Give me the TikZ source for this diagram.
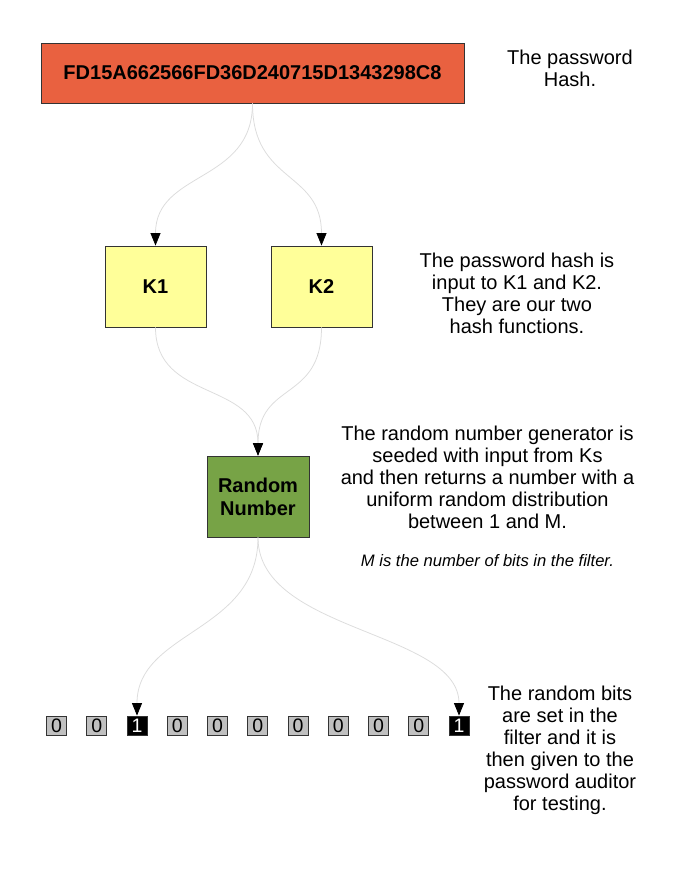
\documentclass[tikz,border=0pt]{standalone}
\usepackage{fontspec}
\setmainfont{Liberation Sans}
\usetikzlibrary{arrows.meta}
\definecolor{hashred}{HTML}{E96140}
\definecolor{kyellow}{HTML}{FFFF99}
\definecolor{rgreen}{HTML}{77A346}
\definecolor{bitgray}{HTML}{C0C0C0}
\definecolor{edgegray}{HTML}{333333}
\definecolor{conngray}{HTML}{DCDCDC}
\tikzset{
  box/.style={draw=edgegray, line width=0.9pt, inner sep=0pt, align=center,
    font=\bfseries\fontsize{20}{23}\selectfont},
  hashbox/.style={box, fill=hashred, minimum width=423pt, minimum height=60pt},
  kbox/.style={box, fill=kyellow, minimum width=101pt, minimum height=81pt},
  rbox/.style={box, fill=rgreen, minimum width=102pt, minimum height=81pt},
  bitzero/.style={draw=edgegray, line width=0.8pt, fill=bitgray, inner sep=0pt,
    minimum width=20pt, minimum height=19pt, font=\fontsize{19.5}{19}\selectfont},
  bitone/.style={bitzero, fill=black, text=white},
  note/.style={align=center, inner sep=0pt, font=\fontsize{20}{22}\selectfont},
  smallnote/.style={align=center, inner sep=0pt, font=\itshape\fontsize{16.6}{19}\selectfont},
  conn/.style={draw=conngray, line width=0.75pt, -{Triangle[black,width=10pt,length=12.5pt]}}
}
\begin{document}
\begin{tikzpicture}[x=1pt,y=-1pt]
\useasboundingbox[fill=white] (0,0) rectangle (674,870);

\node[hashbox] (hash) at (252.5,73) {FD15A662566FD36D240715D1343298C8};
\node[note] (t1) at (570,68.5) {The password\\Hash.};

\node[kbox] (k1) at (155.5,286.5) {K1};
\node[kbox] (k2) at (321.5,286.5) {K2};
\node[note] (t2) at (517,293) {The password hash is\\input to K1 and K2.\\They are our two\\hash functions.};

\node[rbox] (rn) at (258,496.5) {Random\\Number};
\node[note] (t3) at (487.5,477) {The random number generator is\\seeded with input from Ks\\and then returns a number with a\\uniform random distribution\\between 1 and M.};
\node[smallnote] (t4) at (487.5,561) {M is the number of bits in the filter.};

\foreach \i/\v/\s in {0/0/bitzero,1/0/bitzero,2/1/bitone,3/0/bitzero,4/0/bitzero,5/0/bitzero,6/0/bitzero,7/0/bitzero,8/0/bitzero,9/0/bitzero,10/1/bitone}{
  \node[\s] (b\i) at ({56.5+40.25*\i},725.5) {\v};
}
\node[note] (t5) at (560,750) {The random bits\\are set in the\\filter and it is\\then given to the\\password auditor\\for testing.};

\draw[conn] (hash.south) .. controls +(0,80) and +(0,-75) .. (k1.north);
\draw[conn] (hash.south) .. controls +(0,80) and +(0,-75) .. (k2.north);
\draw[conn] (k1.south) .. controls +(0,75) and +(0,-75) .. (rn.north);
\draw[conn] (k2.south) .. controls +(0,75) and +(0,-75) .. (rn.north);
\draw[conn] (rn.south) .. controls +(0,95) and +(0,-85) .. (b2.north);
\draw[conn] (rn.south) .. controls +(0,95) and +(0,-85) .. (b10.north);
\end{tikzpicture}
\end{document}
